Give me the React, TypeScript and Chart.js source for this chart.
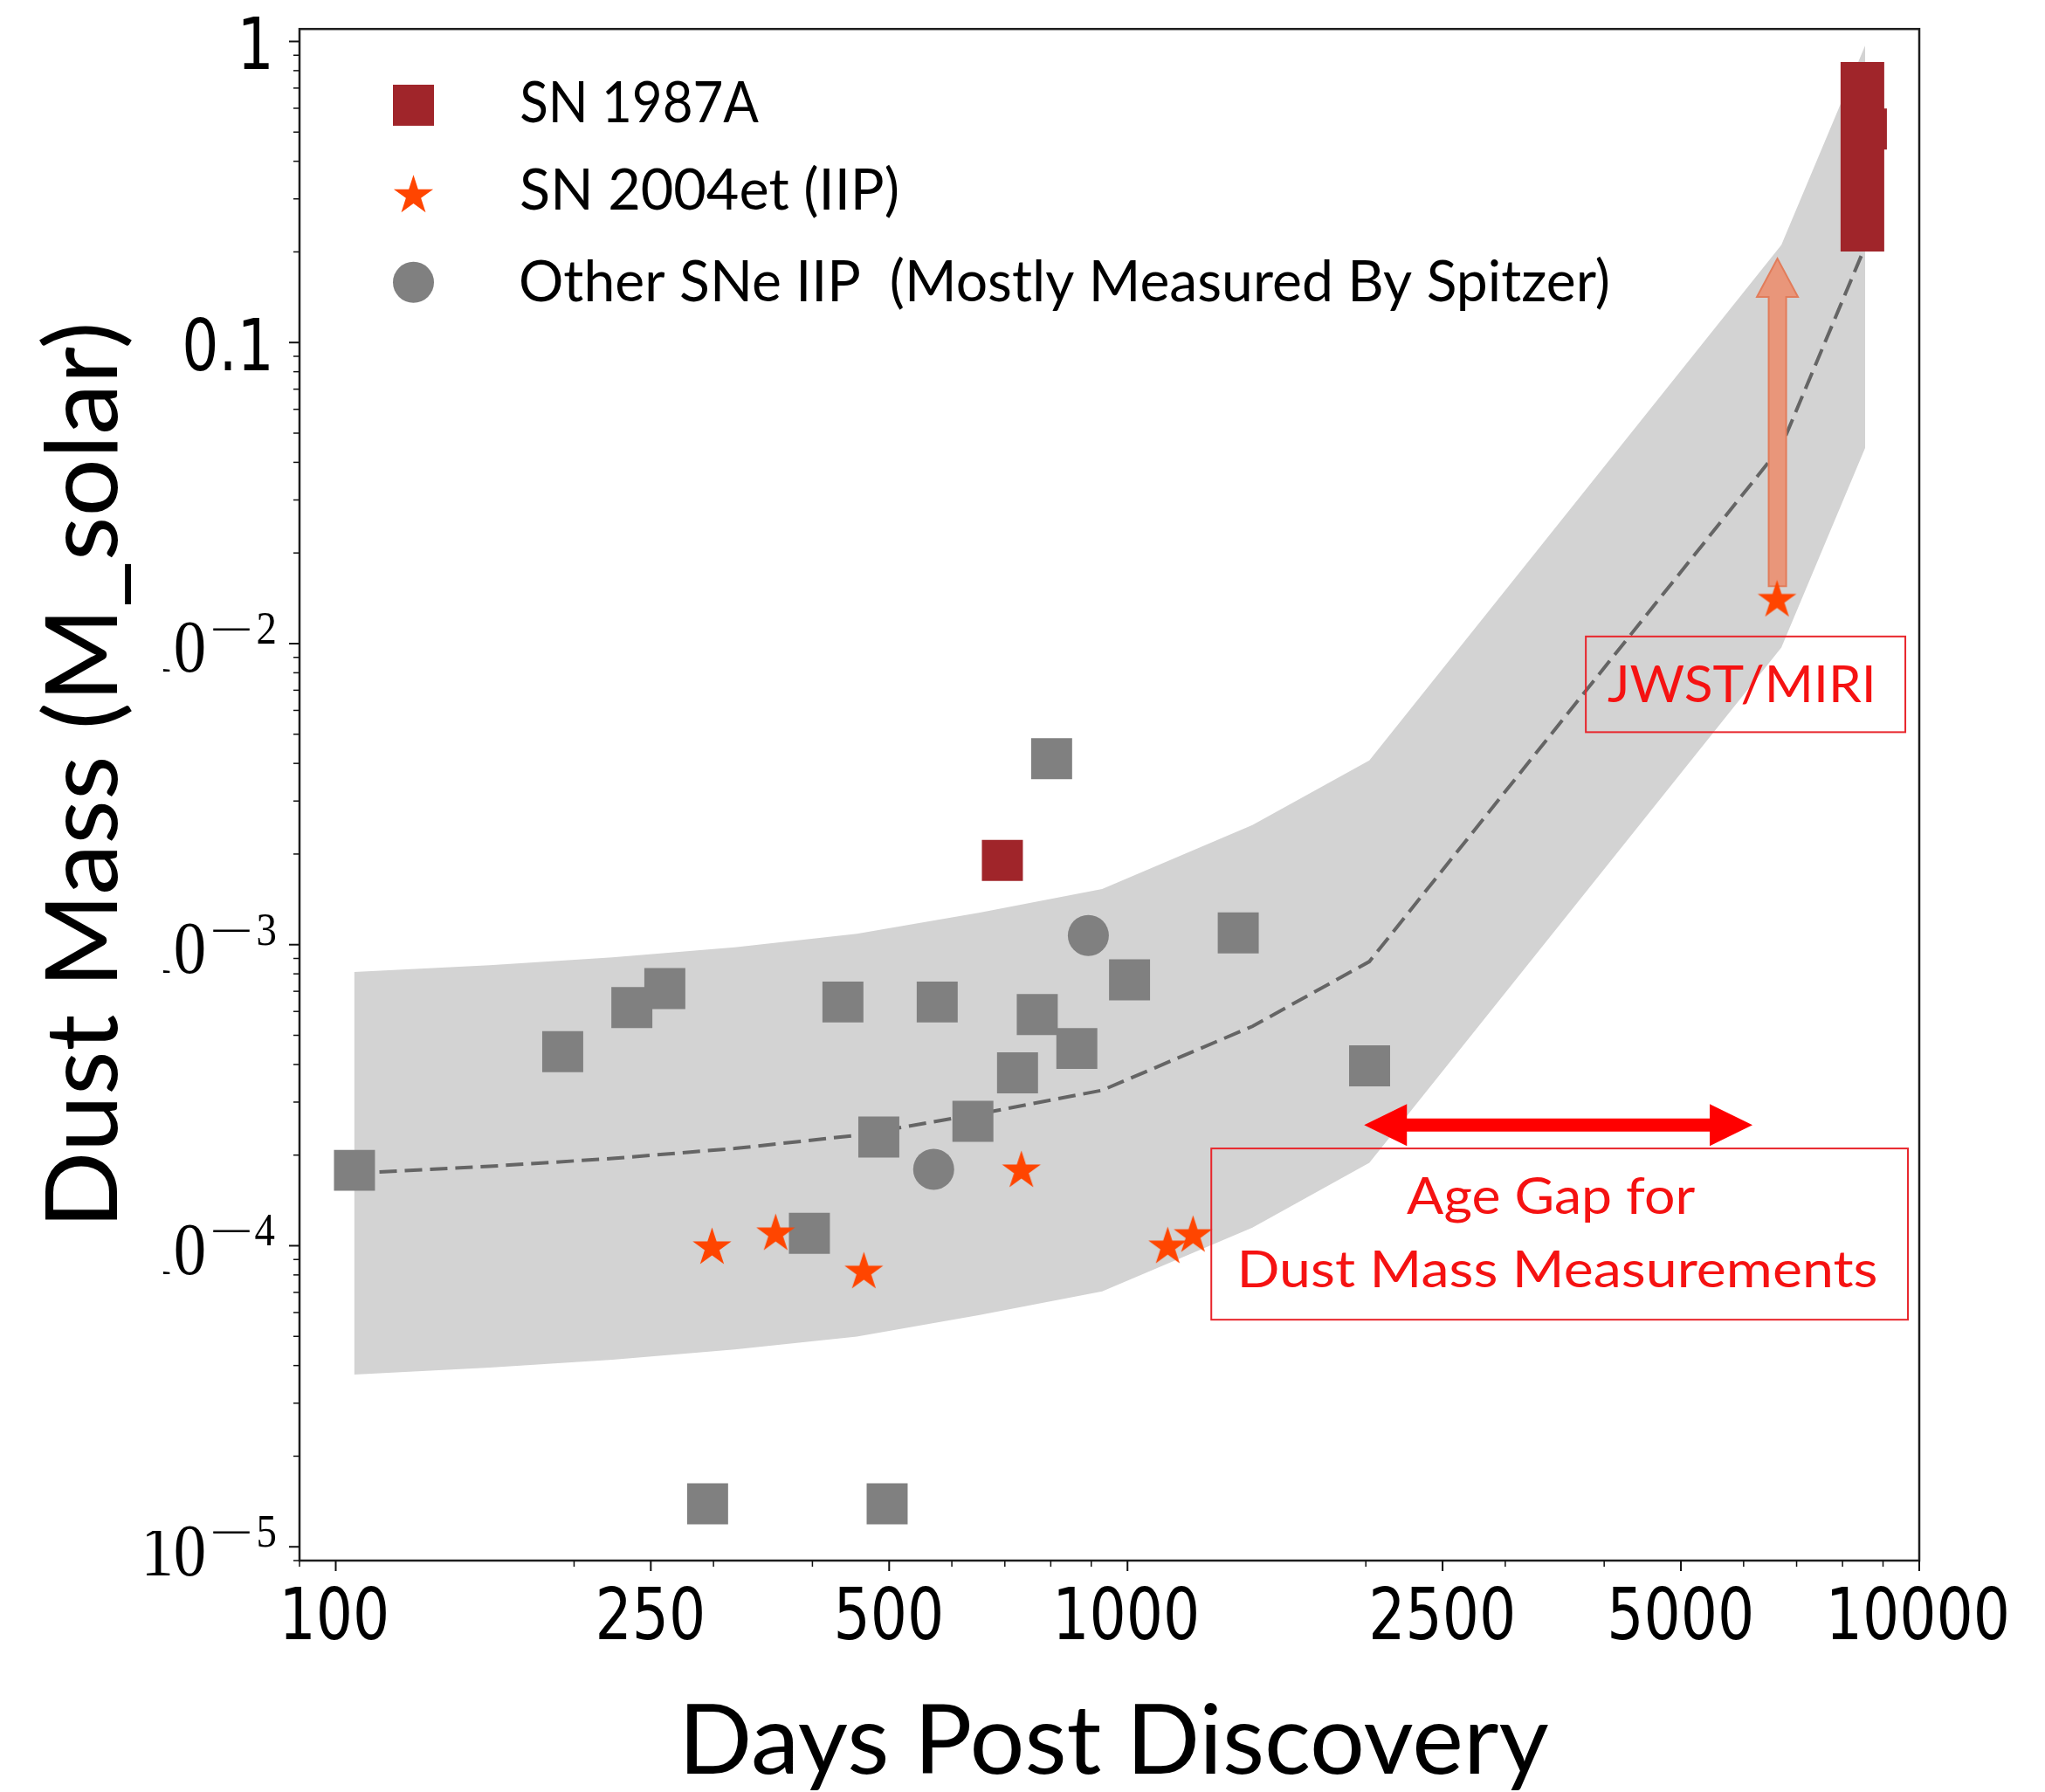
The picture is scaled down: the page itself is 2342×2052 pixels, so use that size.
import React, { useEffect, useRef } from 'react';
import { Chart, registerables } from 'chart.js';

Chart.register(...registerables);

const W = 2342;
const H = 2052;

// ---------------- data ----------------
const BAND_DAYS = [105.5, 156.5, 223.6, 319.1, 455.2, 650.8, 929.0, 1438, 2020.5, 6696, 8543];
const BAND_CENTER = [1.741e-4, 1.836e-4, 1.949e-4, 2.104e-4, 2.328e-4, 2.745e-4, 3.284e-4, 5.355e-4, 8.786e-4, 0.04525, 0.2081];
const BAND_UPPER = [8.11e-4, 8.55e-4, 9.08e-4, 9.8e-4, 1.087e-3, 1.279e-3, 1.53e-3, 2.495e-3, 4.09e-3, 0.2109, 0.969];
const BAND_LOWER = [3.736e-5, 3.94e-5, 4.18e-5, 4.52e-5, 4.995e-5, 5.89e-5, 7.05e-5, 1.149e-4, 1.885e-4, 9.71e-3, 0.04467];

const OTHER_SQ_DAYS = [105.6, 193.5, 236.6, 260.4, 437.1, 575, 769.2, 863, 726.3, 1006, 1380, 802, 637.9, 485.2, 396.5, 2022, 294.9, 497.1];
const OTHER_SQ_MASS = [1.78e-4, 4.41e-4, 6.18e-4, 7.15e-4, 6.45e-4, 6.45e-4, 5.86e-4, 4.52e-4, 3.75e-4, 7.64e-4, 1.094e-3, 4.145e-3, 2.59e-4, 2.295e-4, 1.1e-4, 3.96e-4, 1.39e-5, 1.39e-5];

const OTHER_CIRCLE_DAYS = [892.4, 569.1];
const OTHER_CIRCLE_MASS = [1.073e-3, 1.794e-4];

const SN1987A_DAYS = [695, 8575];
const SN1987A_MASS = [1.904e-3, 0.512];
const SN1987A_RANGE_DAYS = 8476;
const SN1987A_RANGE_MASS = [0.2007, 0.8545];

const SN2004ET_DAYS = [298.7, 359.4, 464.5, 734.5, 1124, 1210, 6612];
const SN2004ET_MASS = [1.0e-4, 1.112e-4, 8.3e-5, 1.8e-4, 1.006e-4, 1.097e-4, 0.01414];

const X_MAJOR_TICKS = [100, 250, 500, 1000, 2500, 5000, 10000];
const X_TICK_LABELS = ['100', '250', '500', '1000', '2500', '5000', '10000'];
const X_MINOR_TICKS = [90, 200, 300, 400, 600, 700, 800, 900, 2000, 3000, 4000, 6000, 7000, 8000, 9000];

const Y_MAJOR_TICKS = [1, 0.1, 1e-2, 1e-3, 1e-4, 1e-5];
const Y_TICK_BASE = ['1', '0.1', '10', '10', '10', '10'];
const Y_TICK_EXP = ['', '', '2', '3', '4', '5'];
const Y_MINOR_TICKS = [
  9e-6,
  2e-5, 3e-5, 4e-5, 5e-5, 6e-5, 7e-5, 8e-5, 9e-5,
  2e-4, 3e-4, 4e-4, 5e-4, 6e-4, 7e-4, 8e-4, 9e-4,
  2e-3, 3e-3, 4e-3, 5e-3, 6e-3, 7e-3, 8e-3, 9e-3,
  0.02, 0.03, 0.04, 0.05, 0.06, 0.07, 0.08, 0.09,
  0.2, 0.3, 0.4, 0.5, 0.6, 0.7, 0.8, 0.9,
];

const LEGEND_LABELS = ['SN 1987A', 'SN 2004et (IIP)', 'Other SNe IIP  (Mostly Measured By Spitzer)'];

// annotations (data coordinates)
const JWST_ARROW_DAYS = 6620;
const JWST_ARROW_MASS = [0.01552, 0.19];
const GAP_ARROW_DAYS = [1990, 6157];
const GAP_ARROW_MASS = 2.518e-4;
const JWST_BOX_DAYS = [3792, 9603];
const JWST_BOX_MASS = [0.01056, 5.08e-3];
const JWST_TEXT = 'JWST/MIRI';
const JWST_TEXT_DAYS = 5935;
const JWST_TEXT_MASS = 6.41e-3;
const GAP_BOX_DAYS = [1276, 9676];
const GAP_BOX_MASS = [2.104e-4, 5.68e-5];
const GAP_TEXT = ['Age Gap for', 'Dust Mass Measurements'];
const GAP_TEXT_DAYS = [3425, 3505];
const GAP_TEXT_MASS = [1.278e-4, 7.27e-5];

// ---------------- styles ----------------
const GRAY = '#808080';
const BAND = '#d3d3d3';
const DARKRED = '#a0252a';
const STAR = '#ff4500';
const RED = 'rgb(245,18,18)';
const SALMON = '#e9967a';

function pts(xs: number[], ys: number[]) {
  return xs.map((x, i) => ({ x, y: ys[i] }));
}

function starPath(ctx: CanvasRenderingContext2D, cx: number, cy: number, R: number) {
  const r = R * 0.381966;
  ctx.beginPath();
  for (let i = 0; i < 10; i++) {
    const ang = -Math.PI / 2 + (i * Math.PI) / 5;
    const rad = i % 2 === 0 ? R : r;
    const px = cx + rad * Math.cos(ang);
    const py = cy + rad * Math.sin(ang);
    if (i === 0) ctx.moveTo(px, py);
    else ctx.lineTo(px, py);
  }
  ctx.closePath();
}

function makeStarImage(R: number, color: string) {
  const c = document.createElement('canvas');
  const s = Math.ceil(2 * R + 6);
  c.width = s;
  c.height = s;
  const g = c.getContext('2d')!;
  g.fillStyle = color;
  starPath(g, s / 2, s / 2 + 0.0955 * R, R);
  g.fill();
  return c;
}

function drawText(
  ctx: CanvasRenderingContext2D,
  text: string,
  font: string,
  sx: number,
  x: number,
  y: number,
  align: 'left' | 'center' | 'right',
  color: string
) {
  ctx.save();
  ctx.font = font;
  ctx.textAlign = 'left';
  ctx.textBaseline = 'alphabetic';
  const m = ctx.measureText(text);
  const l = m.actualBoundingBoxLeft;
  const r = m.actualBoundingBoxRight;
  const w = (l + r) * sx;
  const left = align === 'left' ? x : align === 'center' ? x - w / 2 : x - w;
  ctx.translate(left, y);
  ctx.scale(sx, 1);
  ctx.fillStyle = color;
  ctx.fillText(text, l, 0);
  ctx.restore();
}

function drawFit(
  ctx: CanvasRenderingContext2D,
  text: string,
  font: string,
  inkLeft: number,
  inkRight: number,
  y: number,
  color: string
) {
  ctx.save();
  ctx.font = font;
  ctx.textAlign = 'left';
  ctx.textBaseline = 'alphabetic';
  const m = ctx.measureText(text);
  const l = m.actualBoundingBoxLeft;
  const r = m.actualBoundingBoxRight;
  const sx = (inkRight - inkLeft) / (l + r);
  ctx.translate(inkLeft, y);
  ctx.scale(sx, 1);
  ctx.fillStyle = color;
  ctx.fillText(text, l, 0);
  ctx.restore();
}

const SANS_TICK_FONT = '82px "DejaVu Sans"';
const SANS_TICK_SX = 0.81;
const SERIF_BIG = '85px "Liberation Serif"';
const SERIF_SMALL = '52px "Liberation Serif"';

const decorPlugin = {
  id: 'decor',
  afterDatasetDraw(chart: any, args: any) {
    if (args.index !== 2) return;
    const ctx: CanvasRenderingContext2D = chart.ctx;
    const xs = chart.scales.x;
    const ys = chart.scales.y;
    // JWST arrow (vertical)
    const x = xs.getPixelForValue(JWST_ARROW_DAYS);
    const y0 = ys.getPixelForValue(JWST_ARROW_MASS[0]);
    const y1 = ys.getPixelForValue(JWST_ARROW_MASS[1]);
    const headLen = 44;
    const headHalf = 23.5;
    const shaftHalf = 10;
    ctx.save();
    ctx.beginPath();
    ctx.moveTo(x - shaftHalf, y0);
    ctx.lineTo(x - shaftHalf, y1 + headLen);
    ctx.lineTo(x - headHalf, y1 + headLen);
    ctx.lineTo(x, y1);
    ctx.lineTo(x + headHalf, y1 + headLen);
    ctx.lineTo(x + shaftHalf, y1 + headLen);
    ctx.lineTo(x + shaftHalf, y0);
    ctx.closePath();
    ctx.fillStyle = SALMON;
    ctx.fill();
    ctx.strokeStyle = '#e27c5a';
    ctx.lineWidth = 2;
    ctx.stroke();
    ctx.restore();
  },
  afterDraw(chart: any) {
    const ctx: CanvasRenderingContext2D = chart.ctx;
    const xs = chart.scales.x;
    const ys = chart.scales.y;
    const a = chart.chartArea;

    // Age gap double arrow
    {
      const x0 = xs.getPixelForValue(GAP_ARROW_DAYS[0]);
      const x1 = xs.getPixelForValue(GAP_ARROW_DAYS[1]);
      const y = ys.getPixelForValue(GAP_ARROW_MASS);
      const headLen = 49;
      const headHalf = 24;
      const shaftHalf = 7.5;
      ctx.save();
      ctx.beginPath();
      ctx.moveTo(x0, y);
      ctx.lineTo(x0 + headLen, y - headHalf);
      ctx.lineTo(x0 + headLen, y - shaftHalf);
      ctx.lineTo(x1 - headLen, y - shaftHalf);
      ctx.lineTo(x1 - headLen, y - headHalf);
      ctx.lineTo(x1, y);
      ctx.lineTo(x1 - headLen, y + headHalf);
      ctx.lineTo(x1 - headLen, y + shaftHalf);
      ctx.lineTo(x0 + headLen, y + shaftHalf);
      ctx.lineTo(x0 + headLen, y + headHalf);
      ctx.closePath();
      ctx.fillStyle = '#ff0000';
      ctx.fill();
      ctx.restore();
    }

    // annotation boxes
    ctx.save();
    ctx.strokeStyle = '#e8262c';
    ctx.lineWidth = 2;
    {
      const bx0 = xs.getPixelForValue(JWST_BOX_DAYS[0]);
      const bx1 = xs.getPixelForValue(JWST_BOX_DAYS[1]);
      const by0 = ys.getPixelForValue(JWST_BOX_MASS[0]);
      const by1 = ys.getPixelForValue(JWST_BOX_MASS[1]);
      ctx.strokeRect(bx0, by0, bx1 - bx0, by1 - by0);
      const gx0 = xs.getPixelForValue(GAP_BOX_DAYS[0]);
      const gx1 = xs.getPixelForValue(GAP_BOX_DAYS[1]);
      const gy0 = ys.getPixelForValue(GAP_BOX_MASS[0]);
      const gy1 = ys.getPixelForValue(GAP_BOX_MASS[1]);
      ctx.strokeRect(gx0, gy0, gx1 - gx0, gy1 - gy0);
    }
    ctx.restore();
    {
      const cx = xs.getPixelForValue(JWST_TEXT_DAYS);
      const by = ys.getPixelForValue(JWST_TEXT_MASS);
      drawFit(ctx, JWST_TEXT, '59px Lato', cx - 151.5, cx + 151.5, by, RED);
      const widths = [330, 726];
      GAP_TEXT.forEach((t, i) => {
        const tx = xs.getPixelForValue(GAP_TEXT_DAYS[i]);
        const ty = ys.getPixelForValue(GAP_TEXT_MASS[i]);
        drawFit(ctx, t, '58px Lato', tx - widths[i] / 2, tx + widths[i] / 2, ty, RED);
      });
    }

    // spines
    ctx.save();
    ctx.strokeStyle = '#1e1e1e';
    ctx.lineWidth = 2.5;
    ctx.strokeRect(a.left, a.top, a.right - a.left, a.bottom - a.top);
    ctx.restore();

    // ticks
    ctx.save();
    ctx.strokeStyle = '#111';
    ctx.lineCap = 'butt';
    const line = (x0: number, y0: number, x1: number, y1: number, w: number) => {
      ctx.lineWidth = w;
      ctx.beginPath();
      ctx.moveTo(x0, y0);
      ctx.lineTo(x1, y1);
      ctx.stroke();
    };
    X_MAJOR_TICKS.forEach((v) => {
      const px = xs.getPixelForValue(v);
      line(px, a.bottom, px, a.bottom + 12, 2);
    });
    X_MINOR_TICKS.forEach((v) => {
      const px = xs.getPixelForValue(v);
      line(px, a.bottom, px, a.bottom + 7, 1.5);
    });
    Y_MAJOR_TICKS.forEach((v) => {
      const py = ys.getPixelForValue(v);
      line(a.left - 12, py, a.left, py, 2);
    });
    Y_MINOR_TICKS.forEach((v) => {
      const py = ys.getPixelForValue(v);
      line(a.left - 7, py, a.left, py, 1.5);
    });
    ctx.restore();

    // x tick labels
    X_MAJOR_TICKS.forEach((v, i) => {
      const px = xs.getPixelForValue(v);
      drawText(ctx, X_TICK_LABELS[i], SANS_TICK_FONT, SANS_TICK_SX, px, a.bottom + 90, 'center', '#000');
    });

    // y tick labels (the left part of the "10" mantissa is hidden, as in the original figure)
    Y_MAJOR_TICKS.forEach((v, i) => {
      const py = ys.getPixelForValue(v);
      if (Y_TICK_EXP[i] === '') {
        drawText(ctx, Y_TICK_BASE[i], SANS_TICK_FONT, SANS_TICK_SX, a.left - 35, py + 32, 'right', '#000');
      } else {
        ctx.save();
        ctx.beginPath();
        ctx.rect(187, py - 90, 400, 180);
        ctx.rect(150, 1753, 437, 120);
        ctx.clip();
        drawText(ctx, Y_TICK_BASE[i], SERIF_BIG, 0.88, a.left - 109, py + 32.5, 'right', '#000');
        drawFit(ctx, '\u2212', SERIF_SMALL, a.left - 100, a.left - 57, py + 1, '#000');
        drawText(ctx, Y_TICK_EXP[i], SERIF_SMALL, 0.9, a.left - 28, py, 'right', '#000');
        ctx.restore();
      }
    });

    // axis titles
    drawFit(ctx, 'Days Post Discovery', '110px Lato', 787, 1773, 2031, '#000');
    ctx.save();
    ctx.translate(134, 1397);
    ctx.rotate(-Math.PI / 2);
    drawFit(ctx, 'Dust Mass (M_solar)', '115px Lato', 0, 1024, 0, '#000');
    ctx.restore();

    // legend
    ctx.save();
    ctx.fillStyle = DARKRED;
    ctx.fillRect(450, 97, 47, 47);
    ctx.fillStyle = STAR;
    starPath(ctx, 473.5, 224, 23.8);
    ctx.fill();
    ctx.fillStyle = GRAY;
    ctx.beginPath();
    ctx.arc(473.5, 323.3, 23.5, 0, Math.PI * 2);
    ctx.fill();
    ctx.restore();
    const legendRight = [869, 1027.6, 1841.6];
    const legendBase = [140, 240, 345];
    LEGEND_LABELS.forEach((t, i) => {
      drawFit(ctx, t, '65px Lato', 597, legendRight[i], legendBase[i], '#000');
    });
  },
};

export default function App() {
  const ref = useRef<HTMLCanvasElement>(null);

  useEffect(() => {
    let chart: Chart | null = null;
    let cancelled = false;

    const build = () => {
      if (cancelled || !ref.current) return;
      const starImg = makeStarImage(23.3, STAR);
      chart = new Chart(ref.current, {
        type: 'scatter',
        data: {
          datasets: [
            {
              type: 'line',
              label: 'band upper',
              data: pts(BAND_DAYS, BAND_UPPER),
              borderColor: 'rgba(0,0,0,0)',
              borderWidth: 0,
              pointRadius: 0,
              backgroundColor: BAND,
              fill: '+1',
              order: 10,
            },
            {
              type: 'line',
              label: 'band lower',
              data: pts(BAND_DAYS, BAND_LOWER),
              borderColor: 'rgba(0,0,0,0)',
              borderWidth: 0,
              pointRadius: 0,
              fill: false,
              order: 11,
            },
            {
              type: 'line',
              label: 'center',
              data: pts(BAND_DAYS, BAND_CENTER),
              borderColor: '#656565',
              borderWidth: 4,
              borderDash: [20, 9],
              pointRadius: 0,
              fill: false,
              order: 9,
            },
            {
              label: 'Other SNe IIP (squares)',
              data: pts(OTHER_SQ_DAYS, OTHER_SQ_MASS),
              pointStyle: 'rect',
              pointRadius: 33.2,
              backgroundColor: GRAY,
              borderWidth: 0,
              order: 5,
            },
            {
              label: 'Other SNe IIP',
              data: pts(OTHER_CIRCLE_DAYS, OTHER_CIRCLE_MASS),
              pointStyle: 'circle',
              pointRadius: 23.5,
              backgroundColor: GRAY,
              borderWidth: 0,
              order: 4,
            },
            {
              label: 'SN 1987A',
              data: pts(SN1987A_DAYS, SN1987A_MASS),
              pointStyle: 'rect',
              pointRadius: 33.2,
              backgroundColor: DARKRED,
              borderWidth: 0,
              order: 3,
            },
            {
              type: 'line',
              label: 'SN 1987A range',
              data: [
                { x: SN1987A_RANGE_DAYS, y: SN1987A_RANGE_MASS[0] },
                { x: SN1987A_RANGE_DAYS, y: SN1987A_RANGE_MASS[1] },
              ],
              borderColor: DARKRED,
              borderWidth: 50,
              borderCapStyle: 'butt',
              pointRadius: 0,
              fill: false,
              order: 2,
            },
            {
              label: 'SN 2004et (IIP)',
              data: pts(SN2004ET_DAYS, SN2004ET_MASS),
              pointStyle: starImg,
              pointRadius: 22,
              backgroundColor: STAR,
              borderWidth: 0,
              order: 1,
            },
          ] as any,
        },
        options: {
          responsive: false,
          maintainAspectRatio: false,
          animation: false,
          devicePixelRatio: 1,
          events: [],
          layout: { padding: { left: 343, top: 25, right: W - 2198, bottom: H - 1787 } },
          plugins: {
            legend: { display: false },
            tooltip: { enabled: false },
          },
          scales: {
            x: { type: 'logarithmic', min: 90, max: 10000, display: false },
            y: { type: 'logarithmic', min: 9e-6, max: 1.1, display: false },
          },
        } as any,
        plugins: [decorPlugin],
      });
    };

    const fonts = ['65px Lato', '82px "DejaVu Sans"', '85px "Liberation Serif"'];
    Promise.all(fonts.map((f) => document.fonts.load(f))).then(build, build);

    return () => {
      cancelled = true;
      if (chart) chart.destroy();
    };
  }, []);

  return (
    <div style={{ position: 'absolute', left: 0, top: 0, width: W, height: H, background: '#fff' }}>
      <canvas ref={ref} width={W} height={H} style={{ display: 'block', width: W, height: H }} />
    </div>
  );
}
